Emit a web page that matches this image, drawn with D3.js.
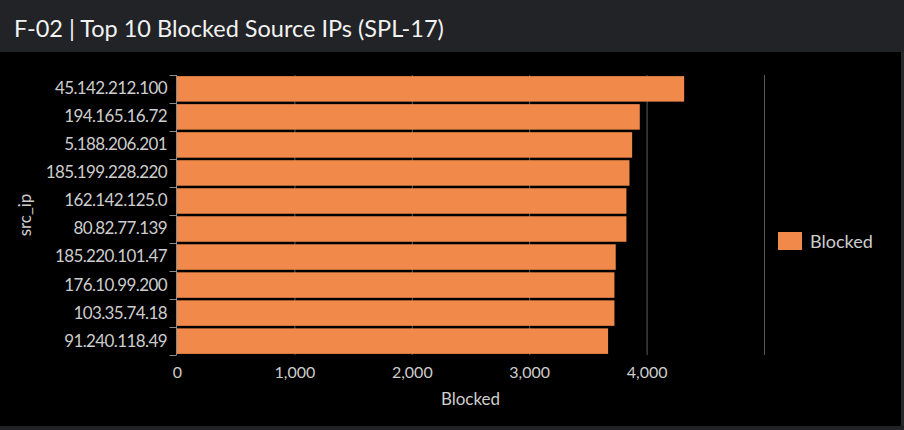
<!DOCTYPE html>
<html>
<head>
<meta charset="utf-8">
<script src="https://cdn.jsdelivr.net/npm/d3@7"></script>
<style>
  html, body { margin: 0; padding: 0; background: #000; }
  svg { display: block; }
  text { font-family: Lato, "Open Sans", sans-serif; }
</style>
</head>
<body>
<svg id="chart" width="904" height="430"></svg>
<script>
const title = "F-02 | Top 10 Blocked Source IPs (SPL-17)";
const categories = ["45.142.212.100", "194.165.16.72", "5.188.206.201", "185.199.228.220", "162.142.125.0",
  "80.82.77.139", "185.220.101.47", "176.10.99.200", "103.35.74.18", "91.240.118.49"];
const blocked = [4320, 3942, 3877, 3854, 3828, 3828, 3737, 3726, 3726, 3672];
const seriesName = "Blocked";
const xTickLabels = [0, 1000, 2000, 3000, 4000];
const xGridValues = [1000, 2000, 3000, 4000, 5000];
const xMax = 5000;
const yAxisTitle = "src_ip";
const xAxisTitle = "Blocked";

const W = 904, H = 430;
const plot = { left: 177, right: 764, top: 75, bottom: 355 };
const barColor = "#F0894A";
const textColor = "#cdcdcd";

const svg = d3.select("#chart");

svg.append("rect").attr("x", 0).attr("y", 0).attr("width", W).attr("height", H).attr("fill", "#000");
// title bar
svg.append("rect").attr("x", 0).attr("y", 0).attr("width", W).attr("height", 52).attr("fill", "#212326");
svg.append("text").attr("x", 14).attr("y", 37).attr("fill", "#f2f2f2")
  .attr("font-size", 23.5).attr("letter-spacing", "0px").text(title);
// frame strips
svg.append("rect").attr("x", 901).attr("y", 52).attr("width", 3).attr("height", H - 52).attr("fill", "#26282b");
svg.append("rect").attr("x", 0).attr("y", 426).attr("width", W).attr("height", 4).attr("fill", "#202225");

const x = d3.scaleLinear().domain([0, xMax]).range([plot.left, plot.right]);
const y = d3.scaleBand().domain(categories).range([plot.top, plot.bottom]).paddingInner(0.09).paddingOuter(0.04);

// gridlines
svg.append("g").selectAll("line").data(xGridValues).join("line")
  .attr("x1", d => x(d) + 0.5).attr("x2", d => x(d) + 0.5)
  .attr("y1", plot.top).attr("y2", plot.bottom)
  .attr("stroke", "#5a5a5a").attr("stroke-width", 1);

// bars
svg.append("g").selectAll("rect").data(categories).join("rect")
  .attr("x", x(0))
  .attr("y", d => y(d))
  .attr("width", (d, i) => x(blocked[i]) - x(0))
  .attr("height", y.bandwidth())
  .attr("fill", barColor);

// y axis
const yAxisG = svg.append("g").attr("transform", `translate(${plot.left - 0.5},0)`);
yAxisG.append("line").attr("x1", 0).attr("x2", 0).attr("y1", plot.top).attr("y2", plot.bottom)
  .attr("stroke", "#8a8a8a");
const bounds = categories.map(c => y(c) - y.step() * y.paddingInner() / 2).concat([plot.bottom]);
bounds[0] = plot.top;
yAxisG.selectAll("line.tick").data(bounds).join("line").attr("class", "tick")
  .attr("x1", -7).attr("x2", 0).attr("y1", d => Math.round(d) + 0.5).attr("y2", d => Math.round(d) + 0.5)
  .attr("stroke", "#8a8a8a");
const yAxis = d3.axisLeft(y).tickSize(0).tickPadding(10);
const yLab = svg.append("g").attr("transform", `translate(${plot.left},0)`).call(yAxis);
yLab.select(".domain").remove();
yLab.selectAll("text").attr("fill", textColor).attr("font-size", 17).attr("letter-spacing", "-0.6px")
  .attr("font-family", "Lato, sans-serif");

// x axis labels
const xAxis = d3.axisBottom(x).tickValues(xTickLabels).tickSize(0).tickPadding(10).tickFormat(d3.format(","));
const xLab = svg.append("g").attr("transform", `translate(0,${plot.bottom + 2})`).call(xAxis);
xLab.select(".domain").remove();
xLab.selectAll("text").attr("fill", textColor).attr("font-size", 16).attr("font-family", "Lato, sans-serif");

// axis titles
svg.append("text").attr("transform", `translate(31,${(plot.top + plot.bottom) / 2}) rotate(-90)`)
  .attr("text-anchor", "middle").attr("fill", textColor).attr("font-size", 17).text(yAxisTitle);
svg.append("text").attr("x", (plot.left + plot.right) / 2).attr("y", 405)
  .attr("text-anchor", "middle").attr("fill", textColor).attr("font-size", 17).text(xAxisTitle);

// legend
const lg = svg.append("g").attr("transform", "translate(778,232)");
lg.append("rect").attr("width", 24).attr("height", 18).attr("fill", barColor);
lg.append("text").attr("x", 32).attr("y", 15.5).attr("fill", textColor).attr("font-size", 18).text(seriesName);
</script>
</body>
</html>
